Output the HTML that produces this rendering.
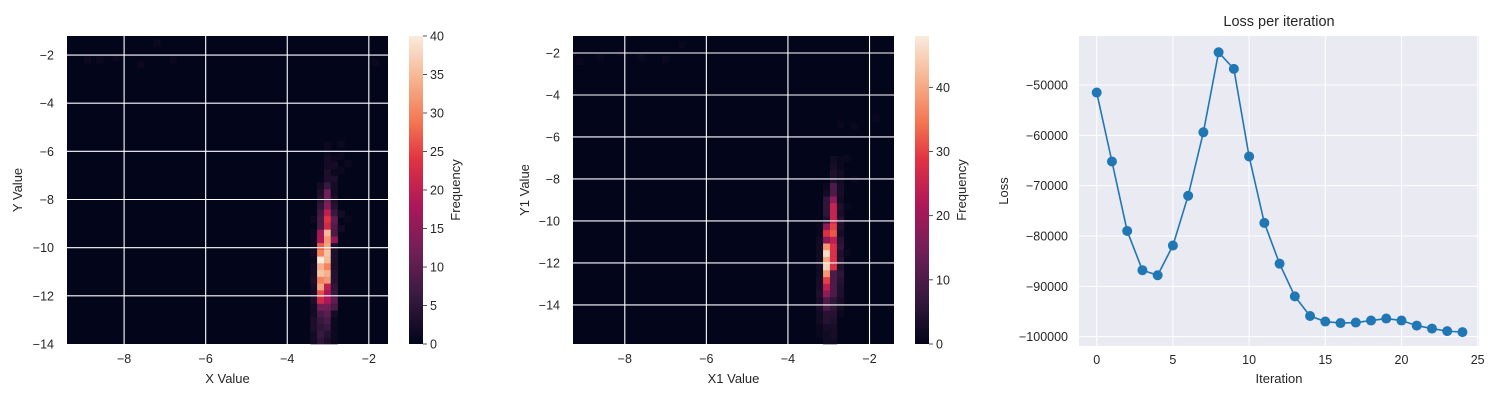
<!DOCTYPE html>
<html><head><meta charset="utf-8">
<style>
html,body{margin:0;padding:0;background:#fff;}
svg{display:block;font-family:"Liberation Sans",Arial,sans-serif;}
</style></head>
<body>
<svg id="fig" width="1500" height="400" viewBox="0 0 1500 400" xmlns="http://www.w3.org/2000/svg">
<defs>
<linearGradient id="rocketGrad" x1="0" y1="1" x2="0" y2="0">
<stop offset="0" stop-color="#03051a"/><stop offset="0.15" stop-color="#36193e"/><stop offset="0.3" stop-color="#701f57"/><stop offset="0.45" stop-color="#ad1759"/><stop offset="0.6" stop-color="#e13342"/><stop offset="0.72" stop-color="#f37651"/><stop offset="0.86" stop-color="#f6b48f"/><stop offset="1" stop-color="#faebdd"/>
</linearGradient>
</defs>
<g id="h1"></g>
<g id="h2"></g>
<g id="lc"></g>
</svg>
<script>
// ---- Heatmap 1 data ----
const h1ColX = [-3.35, -3.185, -3.015, -2.85];
const h1ColCounts = [
  [2,2,3,3,2,2,3,2,2,3,2,2,1,2,1,1,1,0,1,0,0,0,0,0],
  [5,6,5,6,8,12,22,26,33,30,36,34,40,30,27,18,17,8,8,7,5,4,3,2],
  [3,4,6,8,10,12,18,18,20,32,34,30,35,36,33,32,35,22,24,20,14,12,12,6,3,3,2,2,1,1],
  [1,1,1,1,2,8,10,6,5,4,4,3,3,3,3,15,8,9,10,6,4,3,2,2,3,1,2,1]
];
const h1Noise = [[-2.68,-9.2,2],[-2.68,-8.6,2],[-2.52,-8.8,1],[-2.85,-7.4,2],[-2.68,-6.8,1],[-2.68,-6.2,1],[-2.52,-6.5,1],[-2.68,-5.7,1],[-1.85,-2.3,1],
  [-8.9,-2.2,1],[-8.6,-2.2,1],[-8.2,-2.1,1],[-7.6,-2.4,1],[-6.8,-2.2,1],[-7.2,-1.5,1]];
const h1XTicks = [-8,-6,-4,-2];
const h1YTicks = [-2,-4,-6,-8,-10,-12,-14];
const cb1Ticks = [0,5,10,15,20,25,30,35,40];

// ---- Heatmap 2 data ----
const h2ColX = [-3.225, -3.055, -2.885, -2.715];
const h2ColCounts = [
  [0,1,1,2,2,3,3,4,3,3,2,2,2,2,2,2,1,1],
  [2,2,3,5,5,10,10,18,24,30,38,45,40,46,38,18,28,18,4,6,6,6,2,1],
  [2,3,3,4,5,6,6,10,10,10,10,28,28,28,28,24,32,30,25,25,25,18,10,10,4,4,3,2],
  [0,0,0,0,1,2,3,4,4,5,6,4,5,4,6,5,3,4,5,3,4,2,3,3,2,2,1,1]
];
const h2Noise = [[-2.55,-11.5,1],[-2.55,-9.3,1],[-2.38,-8.0,1],[-2.55,-7.0,1],[-2.72,-5.4,1],[-1.85,-5.1,1],[-2.38,-5.5,1],
  [-9.1,-2.4,1],[-8.6,-2.2,1],[-8.1,-2.0,1],[-7.6,-2.2,1],[-7.0,-2.3,1],[-6.6,-1.6,1]];
const h2XTicks = [-8,-6,-4,-2];
const h2YTicks = [-2,-4,-6,-8,-10,-12,-14];
const cb2Ticks = [0,10,20,30,40];

// ---- Loss data ----
const iterations = [0,1,2,3,4,5,6,7,8,9,10,11,12,13,14,15,16,17,18,19,20,21,22,23,24];
const lossValues = [-51500,-65200,-79000,-86800,-87800,-81900,-72000,-59400,-43500,-46800,-64200,-77400,-85500,-92000,-95900,-97000,-97300,-97200,-96800,-96400,-96800,-97800,-98400,-98900,-99100];
const lossXTicks = [0,5,10,15,20,25];
const lossYTicks = [-50000,-60000,-70000,-80000,-90000,-100000];

const NS="http://www.w3.org/2000/svg";
function mk(parent,tag,attrs,text){const e=document.createElementNS(NS,tag);for(const k in attrs)e.setAttribute(k,attrs[k]);if(text!==undefined)e.textContent=text;parent.appendChild(e);return e;}
const stops=[[0,[3,5,26]],[0.15,[54,25,62]],[0.3,[112,31,87]],[0.45,[173,23,89]],[0.6,[225,51,66]],[0.72,[243,118,81]],[0.86,[246,180,143]],[1,[250,235,221]]];
function rocket(t){t=Math.max(0,Math.min(1,t));for(let i=1;i<stops.length;i++){if(t<=stops[i][0]){const a=stops[i-1],b=stops[i];const f=(t-a[0])/(b[0]-a[0]);const c=a[1].map((v,j)=>Math.round(v+(b[1][j]-v)*f));return `rgb(${c[0]},${c[1]},${c[2]})`;}}return 'rgb(250,235,221)';}

function heatmap(g,o){
  const sx=v=>o.px0+(v-o.x0)/(o.x1-o.x0)*(o.px1-o.px0);
  const sy=v=>o.py1-(v-o.y0)/(o.y1-o.y0)*(o.py1-o.py0);
  const bg=mk(g,'rect',{x:o.px0,y:o.py0,width:o.px1-o.px0,height:o.py1-o.py0,fill:'#03051a'});
  
  
  const cells=[];
  o.colX.forEach((cx,ci)=>{o.counts[ci].forEach((c,i)=>{if(c>0)cells.push([cx,o.y0+(i+0.5)*o.bh,c]);});});
  o.noise.forEach(n=>cells.push(n));
  cells.forEach(([cx,cy,c])=>{
    const x=sx(cx-o.bw/2),x2=sx(cx+o.bw/2),y=sy(cy+o.bh/2),y2=sy(cy-o.bh/2);
    const r=mk(g,'rect',{x:x,y:y,width:x2-x+0.3,height:y2-y+0.3,fill:rocket(c/o.vmax)});
    
    
  });
  o.xt.forEach(v=>{const x=sx(v);
    const l=mk(g,'line',{x1:x,x2:x,y1:o.py0,y2:o.py1,stroke:'#fff','stroke-width':1.1});
    
    
    const t=mk(g,'text',{x:x,y:o.py1+19,'text-anchor':'middle','font-size':12.5,fill:'#262626'},'\u2212'+Math.abs(v));
    
    
  });
  o.yt.forEach(v=>{const y=sy(v);
    if(y>o.py0+1&&y<o.py1-1){const l=mk(g,'line',{x1:o.px0,x2:o.px1,y1:y,y2:y,stroke:'#fff','stroke-width':1.1});
    
    }
    const t=mk(g,'text',{x:o.px0-13,y:y+4.5,'text-anchor':'end','font-size':12.5,fill:'#262626'},'\u2212'+Math.abs(v));
    
    
  });
  const xl=mk(g,'text',{x:(o.px0+o.px1)/2,y:383,'text-anchor':'middle','font-size':13,fill:'#262626'},o.xlab);
  
  
  const yl=mk(g,'text',{x:0,y:0,'text-anchor':'middle','font-size':13,fill:'#262626',transform:`translate(${o.ylx},${(o.py0+o.py1)/2}) rotate(-90)`},o.ylab);
  
  
  const cb=mk(g,'rect',{x:o.cbx,y:o.py0,width:14,height:o.py1-o.py0,fill:'url(#rocketGrad)'});
  
  
  o.cbt.forEach(v=>{const y=o.py1-v/o.vmax*(o.py1-o.py0);
    mk(g,'line',{x1:o.cbx+14,x2:o.cbx+18,y1:y,y2:y,stroke:'#262626','stroke-width':0.8});
    const t=mk(g,'text',{x:o.cbx+21,y:y+4.5,'font-size':12.5,fill:'#262626'},String(v));
    
    
  });
  const fl=mk(g,'text',{x:0,y:0,'text-anchor':'middle','font-size':13,fill:'#262626',transform:`translate(${o.cbx+51},${(o.py0+o.py1)/2}) rotate(-90)`},'Frequency');
  
  
}

heatmap(document.getElementById('h1'),{px0:67,px1:388,py0:36,py1:344,x0:-9.4,x1:-1.53,y0:-14,y1:-1.21,bw:0.168,bh:0.28,
  colX:h1ColX,counts:h1ColCounts,noise:h1Noise,vmax:40,xt:h1XTicks,yt:h1YTicks,cbt:cb1Ticks,cbx:409,xlab:'X Value',ylab:'Y Value',ylx:22});
heatmap(document.getElementById('h2'),{px0:573,px1:894,py0:36,py1:344,x0:-9.27,x1:-1.4,y0:-15.86,y1:-1.19,bw:0.17,bh:0.32,
  colX:h2ColX,counts:h2ColCounts,noise:h2Noise,vmax:48,xt:h2XTicks,yt:h2YTicks,cbt:cb2Ticks,cbx:915,xlab:'X1 Value',ylab:'Y1 Value',ylx:529});

(function(){
  const g=document.getElementById('lc');
  const L=1079,R=1479,T=36,B=346;
  const sx=v=>1096.7+v*15.24;
  const sy=v=>85+(-50000-v)/1000*5.033;
  const bg=mk(g,'rect',{x:L,y:T,width:R-L,height:B-T,fill:'#eaeaf2'});
  
  
  lossXTicks.forEach(v=>{const x=sx(v);
    const l=mk(g,'line',{x1:x,x2:x,y1:T,y2:B,stroke:'#fff','stroke-width':1});
    
    
    const t=mk(g,'text',{x:x,y:B+18,'text-anchor':'middle','font-size':12.5,fill:'#262626'},String(v));
    
    
  });
  lossYTicks.forEach(v=>{const y=sy(v);
    const l=mk(g,'line',{x1:L,x2:R,y1:y,y2:y,stroke:'#fff','stroke-width':1});
    
    
    const t=mk(g,'text',{x:L-11,y:y+4.5,'text-anchor':'end','font-size':12.5,fill:'#262626'},'\u2212'+Math.abs(v));
    
    
  });
  const pts=iterations.map((it,i)=>sx(it)+','+sy(lossValues[i])).join(' ');
  const line=mk(g,'polyline',{points:pts,fill:'none',stroke:'#1f77b4','stroke-width':1.6});
  
  
  iterations.forEach((it,i)=>{
    const c=mk(g,'circle',{cx:sx(it),cy:sy(lossValues[i]),r:5,fill:'#1f77b4'});
    
    
  });
  const ti=mk(g,'text',{x:(L+R)/2,y:26,'text-anchor':'middle','font-size':14.5,fill:'#262626'},'Loss per iteration');
  
  
  const xl=mk(g,'text',{x:(L+R)/2,y:383,'text-anchor':'middle','font-size':13,fill:'#262626'},'Iteration');
  
  
  const yl=mk(g,'text',{x:0,y:0,'text-anchor':'middle','font-size':13,fill:'#262626',transform:`translate(1008,${(T+B)/2}) rotate(-90)`},'Loss');
  
  
})();
</script>
</body></html>
